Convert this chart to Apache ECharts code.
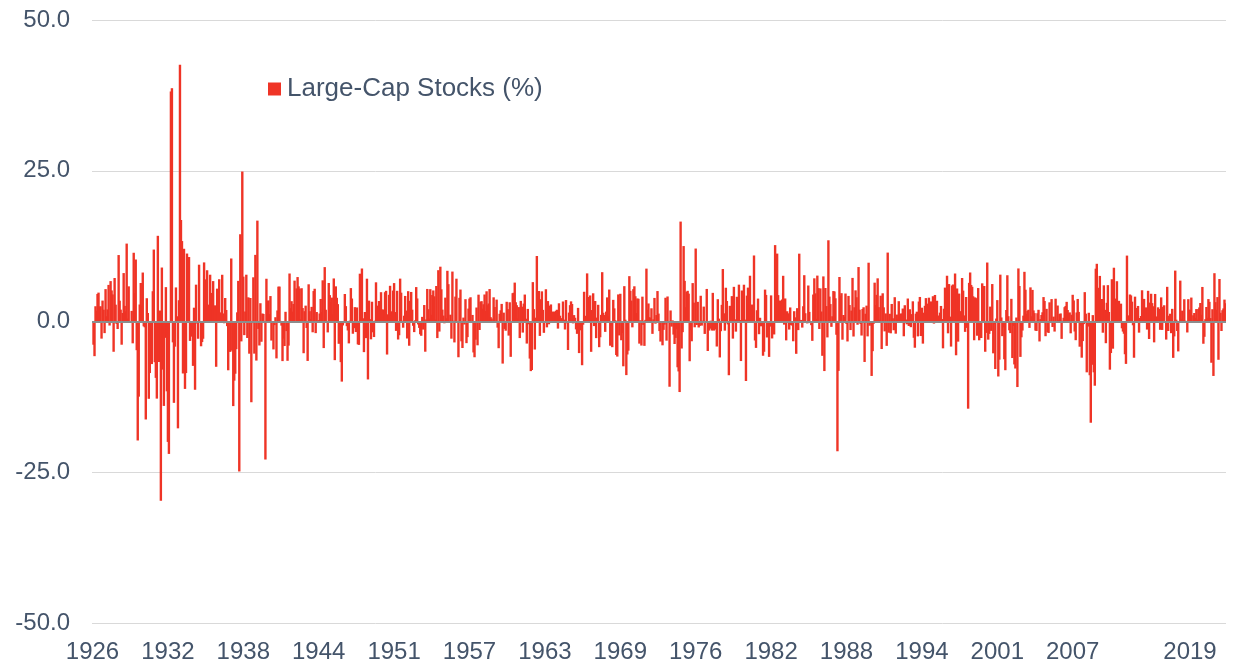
<!DOCTYPE html>
<html>
<head>
<meta charset="utf-8">
<title>Large-Cap Stocks (%)</title>
<script src="https://cdn.jsdelivr.net/npm/echarts@6/dist/echarts.min.js"></script>
<style>
  html, body {
    margin: 0;
    padding: 0;
    background: #fff;
  }
  #chart {
    width: 1233px;
    height: 668px;
  }
</style>
</head>
<body>
<div id="chart"></div>
<script>
// monthly total returns, one row per year, Jan..Dec
const firstYear = 1926;
const monthlyReturns = [
  [0.00, -3.85, -5.75, 2.53, 1.79, 4.57, 4.79, 2.48, 2.52, -2.84, 3.47, 1.96],
  [-1.93, 5.37, 0.87, 2.01, 6.07, -0.67, 6.70, 5.15, 4.49, -5.02, 7.21, 2.79],
  [-0.40, -1.25, 11.02, 3.45, 1.97, -3.85, 1.41, 8.03, 2.59, 1.68, 12.92, 0.49],
  [5.83, -0.19, -0.12, 1.76, -3.62, 11.40, 4.71, 10.28, -4.76, -19.73, -12.46, 2.82],
  [6.39, 2.59, 8.12, -0.80, -0.96, -16.25, 3.86, 1.41, -12.82, -8.55, -0.89, -7.06],
  [5.02, 11.93, -6.75, -9.35, -12.79, 14.21, -6.72, 1.82, -29.73, 8.95, -7.98, -14.00],
  [-2.71, 5.70, -11.58, -19.97, -21.96, -0.22, 38.15, 38.69, -3.46, -13.49, -4.17, 5.65],
  [0.87, -17.72, 3.53, 42.56, 16.83, 13.34, -8.62, 12.06, -11.18, -8.55, 11.27, 2.53],
  [10.69, -3.22, 0.00, -2.51, -7.36, 2.29, -11.32, 6.11, -0.33, -2.86, 9.42, -0.10],
  [-4.11, -3.41, -2.86, 9.80, 4.09, 6.99, 8.50, 2.80, 2.56, 7.76, 4.74, 3.94],
  [6.70, 2.24, 2.68, -7.51, 5.45, 3.33, 7.01, 1.51, 0.31, 7.75, 1.34, -0.29],
  [3.90, 1.91, -0.77, -8.09, -0.24, -5.04, 10.45, -4.83, -14.03, -9.81, -8.66, -4.59],
  [1.52, 6.74, -24.87, 14.47, -3.30, 24.87, 7.44, -2.26, 1.66, 7.76, -2.73, 4.01],
  [-5.34, 3.90, -13.39, -0.27, 7.33, -5.33, 11.05, -6.48, 16.73, -1.23, -3.98, 3.03],
  [-3.36, 1.33, 1.24, -0.24, -22.89, 7.09, 3.41, 3.50, 1.23, 4.22, -3.16, 0.09],
  [-4.63, -0.60, 0.71, -6.12, 1.83, 5.78, 5.79, 0.10, -0.68, -6.57, -2.84, -4.07],
  [1.61, -1.59, -6.52, -4.00, 7.96, 2.21, 3.37, 1.64, 2.90, 6.78, -0.21, 5.49],
  [7.37, 5.83, 5.45, 0.35, 5.52, 2.23, -5.26, 1.71, 2.63, -1.08, -6.54, 6.17],
  [1.71, 0.42, 2.43, -1.79, 5.05, 5.43, -1.93, 1.57, -0.08, 0.23, 1.33, 3.74],
  [1.58, 6.83, -4.41, 9.02, 1.95, -0.07, -1.81, 6.39, 4.38, 3.22, 3.96, 1.16],
  [7.14, -6.41, 5.83, 3.93, 2.88, -3.70, -2.39, -6.74, -9.97, -0.65, -0.27, 4.56],
  [2.55, -0.77, -1.49, -3.63, 0.14, 5.54, 3.81, -2.03, -1.11, 2.38, -1.75, 2.33],
  [-3.79, -3.88, 7.93, 2.92, 8.79, 0.54, -5.08, 1.58, -2.76, 7.10, -9.61, 3.46],
  [0.39, -2.96, 3.28, -1.79, -2.58, 0.14, 6.50, 2.19, 2.63, 3.40, 1.75, 4.86],
  [1.97, 1.99, 0.70, 4.86, 5.09, -5.48, 1.19, 4.43, 5.92, 0.93, 1.69, 5.13],
  [6.37, 1.57, -1.56, 5.09, -2.99, -2.28, 7.11, 4.78, 0.13, -1.03, 0.96, 4.24],
  [1.81, -2.82, 5.03, -4.02, 3.43, 4.90, 1.96, -0.71, -1.76, 0.20, 5.71, 3.82],
  [-0.49, -1.06, -2.12, -2.37, 0.77, -1.34, 2.73, -5.01, 0.34, 5.40, 2.04, 0.48],
  [5.36, 1.11, 4.39, 5.15, 4.18, 0.31, 5.89, -2.75, 8.51, -1.67, 9.09, 5.34],
  [1.97, 0.98, -0.30, 3.96, 0.55, 8.41, 6.19, -0.25, 1.13, -2.85, 8.28, 0.13],
  [-3.47, 4.13, 7.10, -0.04, -5.93, 3.93, 5.30, -3.29, -4.40, 0.65, -0.50, 3.70],
  [-3.59, -2.59, 2.14, 3.80, 4.02, -0.07, 1.09, -5.13, -5.93, -3.02, 2.32, -3.95],
  [4.45, -1.41, 3.28, 3.37, 2.12, 2.86, 4.48, 1.76, 5.01, 2.70, 2.99, 5.38],
  [0.72, 0.49, 0.16, 4.01, 2.40, -0.02, 3.63, -1.02, -4.43, 1.28, 1.86, 2.92],
  [-6.98, 1.47, -1.23, -1.53, 3.27, 2.05, -2.34, 3.19, -5.86, -0.01, 4.70, 4.77],
  [6.45, 3.19, 2.70, 0.51, 2.39, -2.75, 3.42, 2.46, -1.84, 2.97, 4.47, 0.46],
  [-3.66, 2.09, -0.46, -6.15, -8.23, -8.04, 6.53, 2.05, -4.65, 0.64, 10.86, 1.53],
  [5.06, -2.39, 3.70, 5.00, 1.93, -1.88, -0.22, 5.35, -0.97, 3.39, -0.46, 2.62],
  [2.83, 1.44, 1.65, 0.75, 1.63, 1.77, 1.95, -1.18, 3.02, 0.96, 0.04, 0.56],
  [3.32, 0.31, -1.33, 3.56, -0.30, -4.73, 1.48, 2.71, 3.34, 2.90, -0.31, 1.06],
  [0.62, -1.31, -2.05, 2.26, -5.24, -1.46, -1.20, -7.25, -0.53, 4.93, 0.95, 0.11],
  [7.98, 0.72, 4.06, 4.32, -5.03, 1.90, 4.68, -0.76, 3.40, -2.76, 0.65, 2.77],
  [-4.26, -2.61, 1.10, 8.18, 1.45, 1.07, -1.72, 1.64, 4.00, 0.88, 5.30, -4.02],
  [-0.69, -4.26, 3.59, 2.18, 0.21, -5.56, -5.82, 4.49, -2.31, 4.60, -3.11, -1.90],
  [-7.43, 5.86, 0.30, -8.89, -5.47, -4.84, 7.52, 5.09, 3.47, -0.97, 5.36, 5.84],
  [4.19, 1.41, 3.82, 3.77, -3.67, 0.21, -3.99, 4.12, -0.56, -4.04, 0.27, 8.77],
  [1.94, 2.99, 0.72, 0.57, 2.19, -2.05, 0.36, 3.91, -0.36, 1.07, 5.05, 1.31],
  [-1.59, -3.33, -0.02, -3.95, -1.39, -0.51, 3.94, -3.18, 4.15, -0.03, -10.82, 1.83],
  [-0.85, 0.19, -2.17, -3.73, -2.72, -1.28, -7.59, -8.28, -11.70, 16.57, -4.48, -1.77],
  [12.51, 6.74, 2.37, 4.93, 5.09, 4.62, -6.59, -1.44, -3.28, 6.37, 3.13, -0.96],
  [12.10, -0.58, 3.26, -0.99, -0.73, 4.27, -0.68, 0.14, 2.47, -2.06, -0.09, 5.40],
  [-4.89, -1.51, -1.19, 0.14, -1.50, 4.75, -1.51, -1.33, 0.00, -4.15, 3.70, 0.48],
  [-5.96, -1.61, 2.76, 8.70, 1.36, -1.52, 5.60, 3.40, -0.48, -8.91, 2.60, 1.72],
  [4.21, -2.84, 5.75, 0.36, -1.68, 4.10, 1.10, 6.11, 0.25, -6.56, 5.14, 1.92],
  [6.10, 0.31, -9.87, 4.29, 5.62, 2.96, 7.59, 1.31, 2.81, 1.86, 10.95, -3.15],
  [-4.38, 1.87, 3.80, -2.11, 0.62, -0.80, -0.07, -5.68, -5.02, 5.29, 4.41, -2.65],
  [-1.63, -5.87, -0.85, 4.33, -2.81, -1.74, -2.15, 12.67, 1.10, 11.26, 4.38, 1.73],
  [3.48, 2.60, 3.65, 7.58, -0.52, 3.82, -3.13, 1.70, 1.36, -1.34, 2.33, -0.61],
  [-0.65, -3.28, 1.71, 0.69, -5.36, 2.21, -1.43, 11.25, 0.02, 0.26, -1.01, 2.53],
  [7.68, 1.37, -0.18, -0.32, 5.97, 1.59, -0.26, -0.61, -3.21, 4.47, 7.16, 4.67],
  [0.44, 7.61, 5.54, -1.24, 5.49, 1.66, -5.69, 7.48, -8.22, 5.56, 2.56, -2.64],
  [13.47, 4.13, 2.89, -0.89, 0.87, 5.05, 4.98, 3.85, -2.20, -21.52, -8.19, 7.38],
  [4.27, 4.70, -3.02, 1.08, 0.78, 4.64, -0.40, -3.31, 4.24, 2.73, -1.42, 1.81],
  [7.23, -2.49, 2.36, 5.17, 4.02, -0.54, 9.03, 1.96, -0.41, -2.33, 2.08, 2.36],
  [-6.71, 1.29, 2.63, -2.47, 9.75, -0.70, -0.32, -9.03, -4.92, -0.37, 6.44, 2.74],
  [4.42, 7.16, 2.38, 0.28, 4.28, -4.57, 4.68, 2.35, -1.64, 1.34, -4.04, 11.43],
  [-1.86, 1.28, -1.96, 2.91, 0.54, -1.45, 4.03, -2.02, 1.15, 0.36, 3.37, 1.31],
  [0.73, 1.35, 2.15, -2.45, 2.70, 0.33, -0.47, 3.81, -0.74, 2.03, -0.94, 1.23],
  [3.35, -2.70, -4.35, 1.30, 1.63, -2.47, 3.31, 4.07, -2.41, 2.29, -3.67, 1.46],
  [2.60, 3.88, 2.96, 2.91, 3.95, 2.35, 3.33, 0.27, 4.19, -0.35, 4.40, 1.85],
  [3.44, 0.96, 0.96, 1.47, 2.58, 0.41, -4.45, 2.12, 5.62, 2.74, 7.59, -1.96],
  [6.21, 0.81, -4.16, 5.97, 6.14, 4.46, 7.96, -5.60, 5.48, -3.34, 4.63, 1.72],
  [1.11, 7.21, 5.12, 1.01, -1.72, 4.06, -1.06, -14.46, 6.41, 8.13, 6.06, 5.76],
  [4.18, -3.11, 4.00, 3.87, -2.36, 5.55, -3.12, -0.50, -2.74, 6.33, 2.03, 5.89],
  [-5.02, -1.89, 9.78, -3.01, -2.05, 2.47, -1.56, 6.21, -5.28, -0.42, -7.88, 0.49],
  [3.55, -9.12, -6.33, 7.77, 0.67, -2.43, -0.98, -6.26, -8.08, 1.91, 7.67, 0.88],
  [-1.46, -1.93, 3.76, -6.06, -0.74, -7.12, -7.80, 0.66, -10.87, 8.80, 5.89, -5.87],
  [-2.62, -1.50, 0.97, 8.24, 5.27, 1.28, 1.76, 1.95, -1.06, 5.66, 0.88, 5.24],
  [1.84, 1.39, -1.51, -1.57, 1.37, 1.94, -3.31, 0.40, 1.08, 1.53, 4.05, 3.40],
  [-2.44, 2.10, -1.77, -1.90, 3.18, 0.14, 3.72, -0.91, 0.81, -1.67, 3.78, 0.03],
  [2.65, 0.27, 1.24, 1.34, -2.88, 0.14, 0.62, 2.38, 2.58, 3.26, 1.90, 1.40],
  [1.51, -1.96, 1.12, 4.43, 3.49, -1.66, -3.10, 1.50, 3.74, 1.59, -4.18, -0.69],
  [-6.00, -3.25, -0.43, 4.87, 1.30, -8.43, -0.84, 1.45, -8.91, -16.79, -7.18, 1.06],
  [-8.43, -10.65, 8.76, 9.57, 5.59, 0.20, 7.56, 3.61, 3.73, -1.86, 6.00, 1.93],
  [-3.60, 3.10, 6.03, 1.58, -7.99, -5.23, 7.01, -4.51, 8.92, 3.80, 0.01, 6.68],
  [2.37, 3.43, 0.04, 2.96, -1.13, -1.67, -2.03, -5.43, -7.03, 10.93, -0.22, 1.02],
  [4.48, 4.32, 3.29, -0.63, -6.01, 4.12, 1.39, 2.25, 2.58, -1.85, 0.58, 0.91],
  [5.18, 1.36, 3.75, 1.93, 2.34, -1.34, 5.09, -2.90, 3.14, 4.60, 3.05, 2.53],
  [-3.46, 4.57, 0.84, 0.74, 2.35, 2.07, -1.38, 4.00, -1.40, 2.44, 2.69, -0.25],
  [-3.00, 5.75, -1.58, 0.96, 1.29, -1.94, 2.10, -6.03, -2.47, 8.44, 0.30, -1.58],
  [-4.96, -0.13, 6.78, 0.39, 1.80, 0.26, 3.69, 0.14, 0.02, -1.82, 3.70, 1.98],
  [1.90, 3.97, 0.12, 1.03, 1.41, 0.62, 2.06, 0.31, 2.06, 2.33, 3.07, 1.11],
  [5.73, -3.69, -2.54, 0.38, 2.41, 0.62, 3.72, 3.26, 0.57, -6.84, 2.04, -9.03],
  [8.01, 3.21, 1.94, 4.05, -6.35, 7.05, 1.44, -1.58, 1.87, 2.17, 3.63, 3.02]
];

// x labels: every 75th month, the 2013 one is dropped and the last one pulled in
const labelStep = 75;
const hiddenLabels = [1050];
const shiftedLabel = 1125;

const yTicks = { min: -50, max: 50, step: 25 };

const months = [];
const values = [];
monthlyReturns.forEach((row, i) => {
  row.forEach((v, m) => {
    months.push((firstYear + i) + '-' + String(m + 1).padStart(2, '0'));
    values.push(v);
  });
});

const textColor = '#44546a';
const barColor = '#ef3426';
const font = "'Liberation Sans', Arial, sans-serif";

const chart = echarts.init(document.getElementById('chart'));
const option = {
  animation: false,
  backgroundColor: '#fff',
  grid: {
    left: 92,
    right: 7,
    top: 20,
    bottom: 45
  },
  legend: {
    left: 268,
    top: 76,
    padding: 0,
    itemWidth: 13,
    itemHeight: 13,
    icon: 'rect',
    itemStyle: { borderWidth: 0 },
    textStyle: {
      color: textColor,
      fontSize: 26,
      fontFamily: font,
      padding: [2, 0, 0, 1]
    },
    data: ['Large-Cap Stocks (%)']
  },
  xAxis: {
    type: 'category',
    data: months,
    axisLine: { show: false, onZero: false },
    axisTick: { show: false },
    axisLabel: {
      color: textColor,
      fontSize: 24,
      fontFamily: font,
      margin: 17,
      interval: (idx) => idx % labelStep === 0 && !hiddenLabels.includes(idx),
      formatter: (value, idx) => {
        const yr = value.slice(0, 4);
        return idx === shiftedLabel ? '{s|' + yr + '}' : yr;
      },
      rich: {
        s: {
          color: textColor,
          fontSize: 24,
          fontFamily: font,
          padding: [0, 67, 0, 0]
        }
      }
    }
  },
  yAxis: {
    type: 'value',
    min: yTicks.min,
    max: yTicks.max,
    interval: yTicks.step,
    axisLine: { show: false },
    axisTick: { show: false },
    axisLabel: {
      color: textColor,
      fontSize: 24,
      fontFamily: font,
      margin: 22,
      formatter: (v) => v.toFixed(1)
    },
    splitLine: {
      lineStyle: { color: '#d9d9d9', width: 1 }
    }
  },
  series: [{
    name: 'Large-Cap Stocks (%)',
    type: 'bar',
    data: values,
    barWidth: 2.4,
    itemStyle: { color: barColor },
    markLine: {
      silent: true,
      symbol: 'none',
      label: { show: false },
      lineStyle: { color: '#8c8c8c', width: 2, type: 'solid' },
      data: [{ yAxis: 0 }]
    }
  }]
};
chart.setOption(option);
</script>
</body>
</html>
